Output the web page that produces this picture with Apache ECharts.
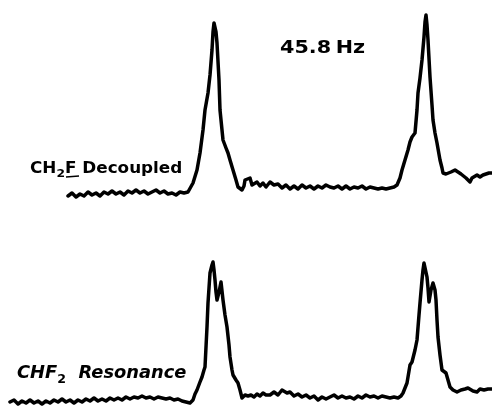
<!DOCTYPE html>
<html>
<head>
<meta charset="utf-8">
<script src="https://cdn.jsdelivr.net/npm/echarts@6/dist/echarts.min.js"></script>
<style>
html,body{margin:0;padding:0;background:#fff;}
#chart{width:492px;height:410px;}
</style>
</head>
<body>
<div id="chart"></div>
<script>
// Upper trace: CH2F decoupled (position along sweep, intensity)
var topX = [68,72,76,80,84,88,92,96,100,104,108,112,116,120,124,128,132,136,140,144,148,152,156,160,164,168,172,176,180,184,188,190,193,197,200,203,205,208,210,212,213,214,215,216,217,219,220,222,223,226,228,230,233,236,238,240,242,244,245,247,250,252,254,257,260,263,266,270,274,278,282,286,290,294,298,302,306,310,314,318,322,326,330,334,338,342,346,350,354,358,362,366,370,374,378,382,386,390,394,397,400,402,405,408,410,412,415,417,418,420,422,424,425,426,427,428,430,432,433,435,437,440,442,443,446,448,451,455,458,461,463,466,468,470,472,474,477,480,483,486,489,492];
var topY = [4,7,3,6,4,8,5,7,4,8,6,9,6,8,5,9,7,10,7,9,6,8,10,7,9,6,7,5,8,7,8,10,17,30,47,70,90,107,125,150,168,177,178,168,157,120,90,70,60,52,47,40,30,20,13,15,10,14,20,22,22,15,13,18,14,17,13,18,15,16,12,15,11,14,11,15,12,14,11,14,12,15,13,12,14,11,14,11,13,12,14,11,13,12,11,12,11,12,13,15,22,30,40,50,58,63,67,90,107,122,140,163,178,185,175,160,123,95,80,67,57,40,32,27,26,27,28,30,28,26,25,22,20,18,22,24,25,23,25,26,27,27];

// Lower trace: CHF2 resonance
var botX = [10,14,18,22,26,30,34,38,42,46,50,54,58,62,66,70,74,78,82,86,90,94,98,102,106,110,114,118,122,126,130,134,138,142,146,150,154,158,162,166,170,174,178,182,186,190,193,195,197,200,202,204,205,207,208,210,212,213,214,215,216,217,219,221,222,223,225,227,229,230,232,233,236,238,240,242,243,245,248,251,254,257,260,263,266,270,274,278,282,284,287,290,294,298,302,306,310,314,318,322,326,330,334,338,342,346,350,354,358,362,366,370,374,378,382,386,390,394,398,401,403,405,407,410,412,413,415,417,419,420,422,423,424,425,427,428,429,431,433,434,435,436,437,438,440,442,444,446,448,450,453,457,461,465,468,470,473,477,480,484,488,492];
var botY = [8,10,6,9,7,10,7,9,6,9,7,10,8,11,8,10,7,10,8,11,9,12,9,11,9,12,10,12,10,13,11,13,12,14,12,13,11,13,12,11,12,10,11,9,8,7,10,16,20,28,33,40,43,83,107,137,145,148,140,130,118,110,118,128,130,110,95,83,65,53,40,35,30,27,20,12,10,15,14,15,13,16,14,17,15,15,18,15,20,22,17,18,14,16,13,15,12,14,10,13,11,13,15,12,14,12,13,11,14,12,15,13,14,12,14,13,12,13,12,14,17,22,27,45,48,48,60,70,95,107,130,140,147,145,133,122,108,120,127,128,120,110,90,73,55,40,38,37,30,23,20,18,20,21,22,23,19,18,21,20,21,21];

// Annotation texts
var splitLabel = ['45.8', 'Hz'];
var topLabel = ['CH', '2', 'F', ' Decoupled'];
var botLabel = ['CHF', '2', '  Resonance'];

function pairs(xs, ys) {
  var out = [];
  for (var i = 0; i < xs.length; i++) out.push([xs[i], ys[i]]);
  return out;
}

var chart = echarts.init(document.getElementById('chart'), null, {renderer: 'canvas'});
var lineStyle = {color: '#000', width: 3.5, join: 'round', cap: 'round'};
chart.setOption({
  animation: false,
  backgroundColor: '#fff',
  grid: [
    {left: 0, right: 0, top: 0, height: 200},
    {left: 0, right: 0, top: 210, height: 200}
  ],
  xAxis: [
    {type: 'value', gridIndex: 0, min: 0, max: 492, show: false},
    {type: 'value', gridIndex: 1, min: 0, max: 492, show: false}
  ],
  yAxis: [
    {type: 'value', gridIndex: 0, min: 0, max: 200, show: false},
    {type: 'value', gridIndex: 1, min: 0, max: 200, show: false}
  ],
  series: [
    {type: 'line', xAxisIndex: 0, yAxisIndex: 0, data: pairs(topX, topY), showSymbol: false, clip: false, lineStyle: lineStyle},
    {type: 'line', xAxisIndex: 1, yAxisIndex: 1, data: pairs(botX, botY), showSymbol: false, clip: false, lineStyle: lineStyle}
  ],
  graphic: [
    {
      type: 'text', x: 280, y: 37, scaleX: 1.15,
      style: {
        text: '{a|' + splitLabel[0] + '}{g|}{a|' + splitLabel[1] + '}',
        fill: '#000',
        rich: {
          a: {fontFamily: 'DejaVu Sans', fontWeight: 'bold', fontSize: 18, lineHeight: 22, fill: '#000'},
          g: {width: 4, lineHeight: 22}
        }
      }
    },
    {
      type: 'text', x: 30, y: 159, scaleX: 1.12,
      style: {
        text: '{a|' + topLabel[0] + '}{s|' + topLabel[1] + '}{a|' + topLabel[2] + '}{a|' + topLabel[3] + '}',
        fill: '#000',
        rich: {
          a: {fontFamily: 'DejaVu Sans', fontWeight: 'bold', fontSize: 15, lineHeight: 20, fill: '#000'},
          s: {fontFamily: 'DejaVu Sans', fontWeight: 'bold', fontSize: 11, lineHeight: 21, verticalAlign: 'bottom', fill: '#000'}
        }
      }
    },
    {
      type: 'line', shape: {x1: 66, y1: 177, x2: 79, y2: 176},
      style: {stroke: '#000', lineWidth: 1.5}
    },
    {
      type: 'text', x: 17, y: 362, scaleX: 1.05,
      style: {
        text: '{a|' + botLabel[0] + '}{s|' + botLabel[1] + '}{a|' + botLabel[2] + '}',
        fill: '#000',
        rich: {
          a: {fontFamily: 'DejaVu Sans', fontWeight: 'bold', fontStyle: 'italic', fontSize: 17, lineHeight: 22, fill: '#000'},
          s: {fontFamily: 'DejaVu Sans', fontWeight: 'bold', fontSize: 12, lineHeight: 24, verticalAlign: 'bottom', fill: '#000'}
        }
      }
    }
  ]
});
</script>
</body>
</html>
